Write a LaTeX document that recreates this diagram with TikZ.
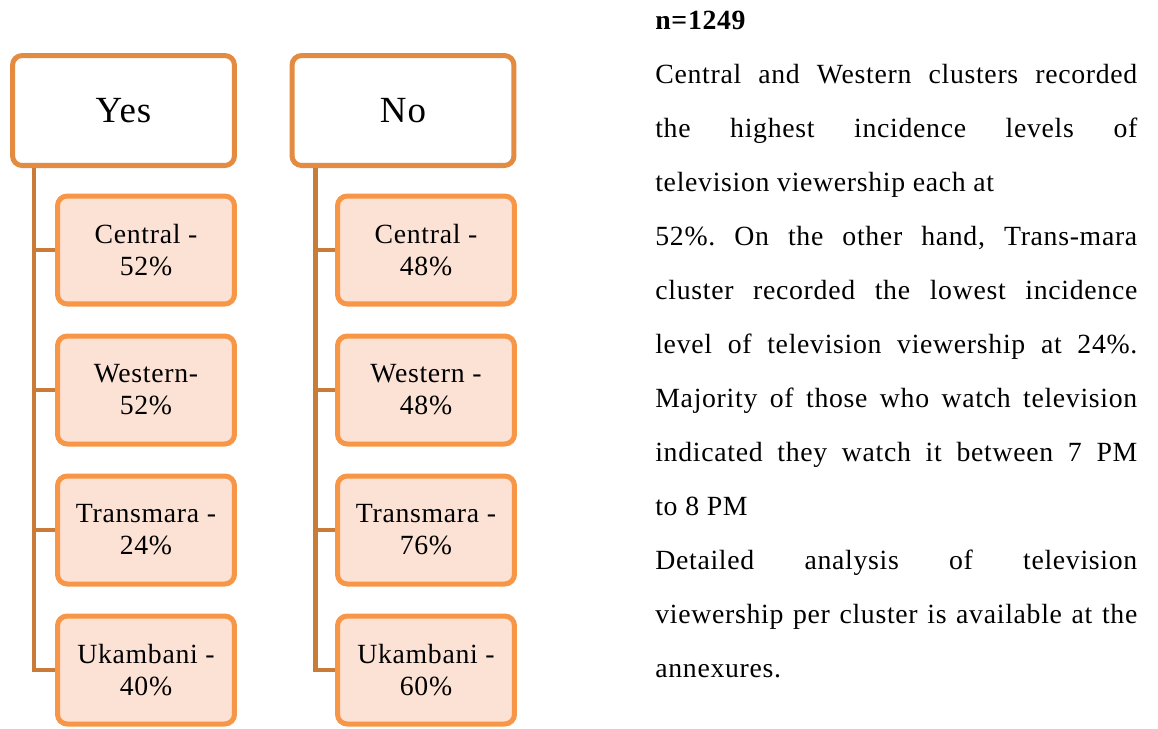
\documentclass[tikz,border=0pt]{standalone}
\usepackage{fontspec}
\setmainfont[LetterSpace=2.5]{Liberation Serif}
\usetikzlibrary{positioning,calc}
\definecolor{headline}{RGB}{226,139,65}
\definecolor{kidline}{RGB}{247,150,70}
\definecolor{kidfill}{RGB}{252,225,213}
\definecolor{trunkcol}{RGB}{201,124,56}

\begin{document}
\begin{tikzpicture}[x=0.02cm,y=-0.02cm,
    headbox/.style={draw=headline,line width=2.85pt,rounded corners=5.5pt,fill=white,
      minimum width=4.44cm,minimum height=2.2cm,font=\fontsize{21}{24}\selectfont},
    kidbox/.style={draw=kidline,line width=2.85pt,rounded corners=5.5pt,fill=kidfill,
      minimum width=3.54cm,minimum height=2.16cm,align=center,
      font=\fontsize{15.8}{18.2}\selectfont},
    trunk/.style={draw=trunkcol,line width=2.5pt},
    para/.style={text width=274.3pt,align=justify,inner sep=0pt,
      font=\fontsize{15.8}{30.7}\selectfont}]
    \useasboundingbox (0,0) rectangle (1158,728);
    % headers
    \node[headbox] (yes) at (123.5,110.5) {Yes};
    \node[headbox] (no) at (403,110.5) {No};
    \coordinate (yroot) at ($(yes.south west)+(24,0)$);
    \coordinate (nroot) at ($(no.south west)+(26,0)$);
    % clusters
    \foreach \i/\txt/\yy in {1/{Central -\\52\%}/250,2/{Western-\\52\%}/390,
        3/{Transmara -\\24\%}/530,4/{Ukambani -\\40\%}/670}{
      \node[kidbox] (yk\i) at (146,\yy) {\txt};
      \draw[trunk] (yroot) |- (yk\i.west);
    }
    \foreach \i/\txt/\yy in {1/{Central -\\48\%}/250,2/{Western -\\48\%}/390,
        3/{Transmara -\\76\%}/530,4/{Ukambani -\\60\%}/670}{
      \node[kidbox] (nk\i) at (426,\yy) {\txt};
      \draw[trunk] (nroot) |- (nk\i.west);
    }
    % notes
    \node[para,anchor=north west] (note) at (655,11) {\parindent=0pt\frenchspacing
      \hyphenpenalty=10000 \exhyphenpenalty=10000
      \textbf{n=1249}\par
      Central and Western clusters recorded\break
      the highest incidence levels of\break
      television viewership each at\hfil\break
      52\%. On the other hand, Trans-mara\break
      cluster recorded the lowest incidence\break
      level of television viewership at 24\%.\break
      Majority of those who watch television\break
      indicated they watch it between 7 PM\break
      to 8 PM\par
      Detailed analysis of television\break
      viewership per cluster is available at the\break
      annexures.};
  \end{tikzpicture}
\end{document}
